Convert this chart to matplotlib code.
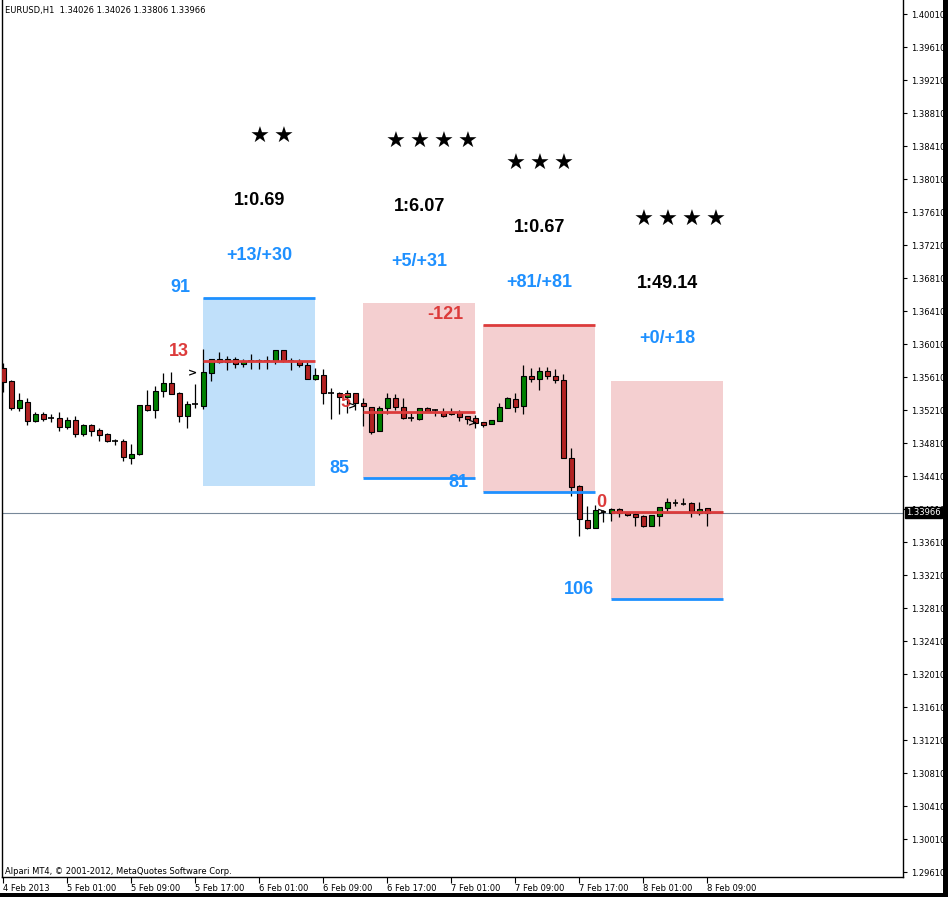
import numpy as np
import matplotlib.pyplot as plt
from matplotlib.patches import Rectangle

# EURUSD H1 bars, 4 Feb 2013 17:00 .. 8 Feb 2013 09:00
opens = [1.3572, 1.3556, 1.3523, 1.3531, 1.3508, 1.3516, 1.3511, 1.3511, 1.3500, 1.3509,
         1.3492, 1.3503, 1.3497, 1.3492, 1.3483, 1.3483, 1.3463, 1.3468, 1.3527, 1.3521,
         1.3544, 1.3554, 1.3542, 1.3514, 1.3528, 1.3526, 1.3566, 1.3583, 1.3579, 1.3583,
         1.3577, 1.3580, 1.3580, 1.3580, 1.3580, 1.3594, 1.3580, 1.3580, 1.3576, 1.3559,
         1.3563, 1.3542, 1.3542, 1.3537, 1.3542, 1.3530, 1.3525, 1.3496, 1.3523, 1.3536,
         1.3525, 1.3511, 1.3510, 1.3523, 1.3521, 1.3519, 1.3516, 1.3519, 1.3514, 1.3511,
         1.3507, 1.3504, 1.3508, 1.3523, 1.3534, 1.3526, 1.3562, 1.3559, 1.3568, 1.3562,
         1.3557, 1.3463, 1.3429, 1.3388, 1.3378, 1.3397, 1.3396, 1.3401, 1.3396, 1.3395,
         1.3393, 1.3380, 1.3393, 1.3402, 1.3408, 1.3407, 1.3408, 1.3396, 1.34026]
highs = [1.3578, 1.3557, 1.3542, 1.3536, 1.3519, 1.3519, 1.3516, 1.3519, 1.3513, 1.3514,
         1.3504, 1.3504, 1.3499, 1.3493, 1.3486, 1.3486, 1.3480, 1.3527, 1.3545, 1.3550,
         1.3566, 1.3567, 1.3543, 1.3532, 1.3553, 1.3595, 1.3583, 1.3591, 1.3587, 1.3585,
         1.3583, 1.3589, 1.3583, 1.3587, 1.3594, 1.3594, 1.3584, 1.3583, 1.3579, 1.3572,
         1.3571, 1.3548, 1.3543, 1.3545, 1.3542, 1.3536, 1.3525, 1.3526, 1.3542, 1.3540,
         1.3536, 1.3517, 1.3523, 1.3525, 1.3522, 1.3523, 1.3523, 1.3521, 1.3514, 1.3515,
         1.3507, 1.3509, 1.3530, 1.3537, 1.3542, 1.3576, 1.3572, 1.3573, 1.3573, 1.3571,
         1.3565, 1.3475, 1.3430, 1.3405, 1.3406, 1.3400, 1.3402, 1.3402, 1.3397, 1.3396,
         1.3394, 1.3394, 1.3403, 1.3414, 1.3413, 1.3414, 1.3410, 1.3410, 1.34026]
lows = [1.3543, 1.3521, 1.3520, 1.3503, 1.3507, 1.3508, 1.3507, 1.3496, 1.3498, 1.3488,
        1.3490, 1.3490, 1.3483, 1.3482, 1.3479, 1.3459, 1.3456, 1.3467, 1.3520, 1.3511,
        1.3537, 1.3540, 1.3507, 1.3499, 1.3523, 1.3522, 1.3556, 1.3578, 1.3570, 1.3572,
        1.3573, 1.3571, 1.3571, 1.3571, 1.3577, 1.3579, 1.3570, 1.3573, 1.3559, 1.3557,
        1.3528, 1.3510, 1.3516, 1.3517, 1.3521, 1.3502, 1.3492, 1.3496, 1.3516, 1.3521,
        1.3510, 1.3508, 1.3509, 1.3519, 1.3514, 1.3513, 1.3515, 1.3508, 1.3504, 1.3499,
        1.3500, 1.3504, 1.3508, 1.3523, 1.3519, 1.3516, 1.3555, 1.3545, 1.3559, 1.3554,
        1.3463, 1.3417, 1.3368, 1.3377, 1.3378, 1.3385, 1.3387, 1.3391, 1.3393, 1.3380,
        1.3379, 1.3380, 1.3380, 1.3399, 1.3405, 1.3406, 1.3391, 1.3394, 1.33806]
closes = [1.3555, 1.3523, 1.3533, 1.3508, 1.3516, 1.3510, 1.3511, 1.3500, 1.3509, 1.3492,
          1.3503, 1.3496, 1.3491, 1.3483, 1.3483, 1.3464, 1.3468, 1.3527, 1.3521, 1.3544,
          1.3554, 1.3540, 1.3514, 1.3528, 1.3528, 1.3567, 1.3583, 1.3579, 1.3583, 1.3577,
          1.3580, 1.3580, 1.3580, 1.3580, 1.3594, 1.3580, 1.3580, 1.3576, 1.3559, 1.3563,
          1.3542, 1.3542, 1.3537, 1.3542, 1.3530, 1.3526, 1.3494, 1.3523, 1.3536, 1.3525,
          1.3511, 1.3511, 1.3523, 1.3520, 1.3521, 1.3514, 1.3519, 1.3513, 1.3510, 1.3505,
          1.3503, 1.3509, 1.3525, 1.3536, 1.3525, 1.3562, 1.3559, 1.3568, 1.3562, 1.3557,
          1.3463, 1.3428, 1.3389, 1.3378, 1.3400, 1.3397, 1.3401, 1.3396, 1.3394, 1.3391,
          1.3380, 1.3394, 1.3403, 1.3410, 1.3408, 1.3407, 1.3399, 1.3401, 1.33966]

time_labels = ["4 Feb 2013", "5 Feb 01:00", "5 Feb 09:00", "5 Feb 17:00", "6 Feb 01:00",
               "6 Feb 09:00", "6 Feb 17:00", "7 Feb 01:00", "7 Feb 09:00", "7 Feb 17:00",
               "8 Feb 01:00", "8 Feb 09:00"]
price_ticks = [1.29610, 1.30010, 1.30410, 1.30810, 1.31210, 1.31610, 1.32010, 1.32410,
               1.32810, 1.33210, 1.33610, 1.34010, 1.34410, 1.34810, 1.35210, 1.35610,
               1.36010, 1.36410, 1.36810, 1.37210, 1.37610, 1.38010, 1.38410, 1.38810,
               1.39210, 1.39610, 1.40010]
last_price = 1.33966

# trade boxes (bar index range and prices)
box_start = [25, 45, 60, 76]
box_end = [39, 59, 74, 90]
box_top = [1.36568, 1.36507, 1.36241, 1.35562]
box_bottom = [1.34289, 1.34386, 1.34216, 1.32919]
red_line = [1.35804, 1.35186, 1.36241, 1.33974]
blue_line = [1.36568, 1.34386, 1.34216, 1.32919]
red_text = ["13", "5", "-121", "0"]
blue_text = ["91", "85", "81", "106"]
pips_text = ["+13/+30", "+5/+31", "+81/+81", "+0/+18"]
ratio_text = ["1:0.69", "1:6.07", "1:0.67", "1:49.14"]
stars = [2, 4, 3, 4]
entry_bar = [23.7, 43.7, 58.7, 74.8]
entry_price = [1.35659, 1.35259, 1.35053, 1.33974]

BLUE = "#1e90ff"
RED = "#dc3b3b"
box_fill = ["#c0e0fa", "#f4cfd0", "#f4cfd0", "#f4cfd0"]

fig = plt.figure(figsize=(9.48, 8.97), dpi=100)
ax = fig.add_axes([2 / 948, 20 / 897, 901 / 948, 877 / 897])
ax.set_xlim(-0.16, 112.46)
ax.set_ylim(1.29550, 1.40180)

# boxes + lines
for k in range(len(box_start)):
    ax.add_patch(Rectangle((box_start[k], box_bottom[k]), box_end[k] - box_start[k],
                           box_top[k] - box_bottom[k], facecolor=box_fill[k],
                           edgecolor="none", zorder=1))

# candles
for i in range(len(opens)):
    o, h, l, c = opens[i], highs[i], lows[i], closes[i]
    ax.vlines(i, l, h, color="black", lw=0.9, zorder=3)
    if c == o:
        ax.hlines(o, i - 0.35, i + 0.35, color="black", lw=1.2, zorder=4)
    else:
        col = "#008000" if c > o else "#b22222"
        ax.add_patch(Rectangle((i - 0.3, min(o, c)), 0.6, abs(c - o), facecolor=col,
                               edgecolor="black", lw=0.8, zorder=4))

ax.axhline(last_price, color="#778899", lw=0.8, zorder=2)

red_dx = [-14, -13, -20, -5]
blue_dx = [-13, -14, -15, -17]
for k in range(len(box_start)):
    ax.hlines(red_line[k], box_start[k], box_end[k], color=RED, lw=2, zorder=5)
    ax.hlines(blue_line[k], box_start[k], box_end[k], color=BLUE, lw=2, zorder=5)
    ax.annotate(red_text[k], (box_start[k], red_line[k]), xytext=(red_dx[k], 10),
                textcoords="offset pixels", ha="right", va="center", color=RED,
                fontsize=13, fontweight="bold", family="Liberation Sans", zorder=6)
    ax.annotate(blue_text[k], (box_start[k], blue_line[k]), xytext=(blue_dx[k], 10),
                textcoords="offset pixels", ha="right", va="center", color=BLUE,
                fontsize=13, fontweight="bold", family="Liberation Sans", zorder=6)
    cx = (box_start[k] + box_end[k]) / 2
    ax.annotate(pips_text[k], (cx, box_top[k]), xytext=(0, 42), textcoords="offset pixels",
                ha="center", va="center", color=BLUE, fontsize=13, fontweight="bold",
                family="Liberation Sans")
    ax.annotate(ratio_text[k], (cx, box_top[k]), xytext=(0, 97), textcoords="offset pixels",
                ha="center", va="center", color="black", fontsize=13, fontweight="bold",
                family="Liberation Sans")
    n = stars[k]
    shift = 12 if n % 2 == 0 else 0
    for s in range(n):
        ax.annotate("\u2605", (cx, box_top[k]), xytext=(shift + 24 * (s - (n - 1) / 2), 161),
                    textcoords="offset pixels", ha="center", va="center", color="black",
                    fontsize=16, family="DejaVu Sans")
    ax.annotate(">", (entry_bar[k], entry_price[k]), ha="center", va="center",
                fontsize=8, fontweight="bold", color="black", zorder=6)

# axes styling (MT4 look)
for side in ["top"]:
    ax.spines[side].set_visible(False)
for side in ["left", "bottom", "right"]:
    ax.spines[side].set_linewidth(1.0)
ax.yaxis.tick_right()
ax.set_yticks(price_ticks)
ax.set_yticklabels(["%.5f" % p for p in price_ticks])
ax.tick_params(axis="y", length=3, pad=3, labelsize=6)
ax.set_xticks([8 * k for k in range(len(time_labels))])
ax.set_xticklabels(time_labels, ha="left")
ax.tick_params(axis="x", length=4, pad=1, labelsize=6)
for t in ax.get_xticklabels():
    t.set_x(t.get_position()[0])

ax.annotate("%.5f" % last_price, (1, last_price), xycoords=("axes fraction", "data"),
            xytext=(3, 0), textcoords="offset pixels", ha="left", va="center",
            fontsize=6, color="white", annotation_clip=False, zorder=10,
            bbox=dict(boxstyle="square,pad=0.15", fc="black", ec="black"))

fig.text(5 / 948, 1 - 11 / 897, "EURUSD,H1  1.34026 1.34026 1.33806 1.33966",
         fontsize=6, va="center", ha="left")
fig.text(5 / 948, 1 - 871 / 897, "Alpari MT4, \u00a9 2001-2012, MetaQuotes Software Corp.",
         fontsize=6, va="center", ha="left")

# black frame at right and bottom edges of the screenshot
fig.patches.append(Rectangle((943 / 948, 0), 5 / 948, 1, transform=fig.transFigure,
                             facecolor="black", edgecolor="none"))
fig.patches.append(Rectangle((0, 0), 1, 4 / 897, transform=fig.transFigure,
                             facecolor="black", edgecolor="none"))

fig.savefig("out.png", dpi=100)
